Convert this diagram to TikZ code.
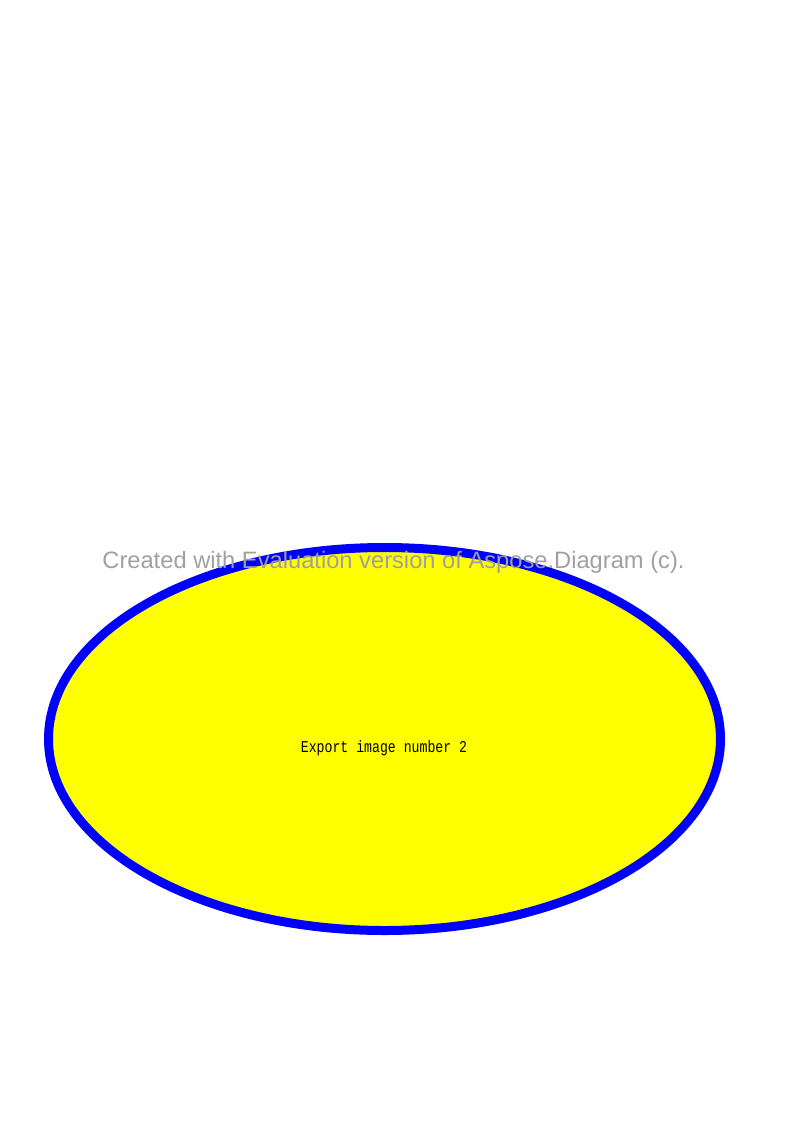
\documentclass[tikz,border=0pt]{standalone}
\usepackage{fontspec}
\setmainfont{Liberation Sans}
\newfontfamily\monofont{Liberation Mono}
\usetikzlibrary{shapes.geometric}
\definecolor{wmgray}{RGB}{160,160,160}
\definecolor{shapeblue}{RGB}{0,0,255}
\definecolor{shapeyellow}{RGB}{255,255,0}
\tikzset{
  shapeoval/.style={ellipse, draw=shapeblue, fill=shapeyellow, line width=9pt, inner sep=0pt},
  watermark/.style={text=wmgray, font=\fontsize{23.7}{26}\selectfont, inner sep=0pt},
  innertext/.style={font=\monofont\fontsize{13.2}{15}\selectfont, inner sep=0pt}
}
\begin{document}
\begin{tikzpicture}[x=1pt,y=-1pt]
\useasboundingbox (0,0) rectangle (794,1123);
\fill[white] (0,0) rectangle (794,1123);
\node[shapeoval, minimum width=672pt, minimum height=383pt] (oval) at (384.5,739) {};
\node[innertext] (lbl) at (384,748) {\scalebox{1}[1.25]{Export image number 2}};
\node[watermark] (wm) at (393.5,562) {Created with Evaluation version of Aspose.Diagram (c).};
\end{tikzpicture}
\end{document}
